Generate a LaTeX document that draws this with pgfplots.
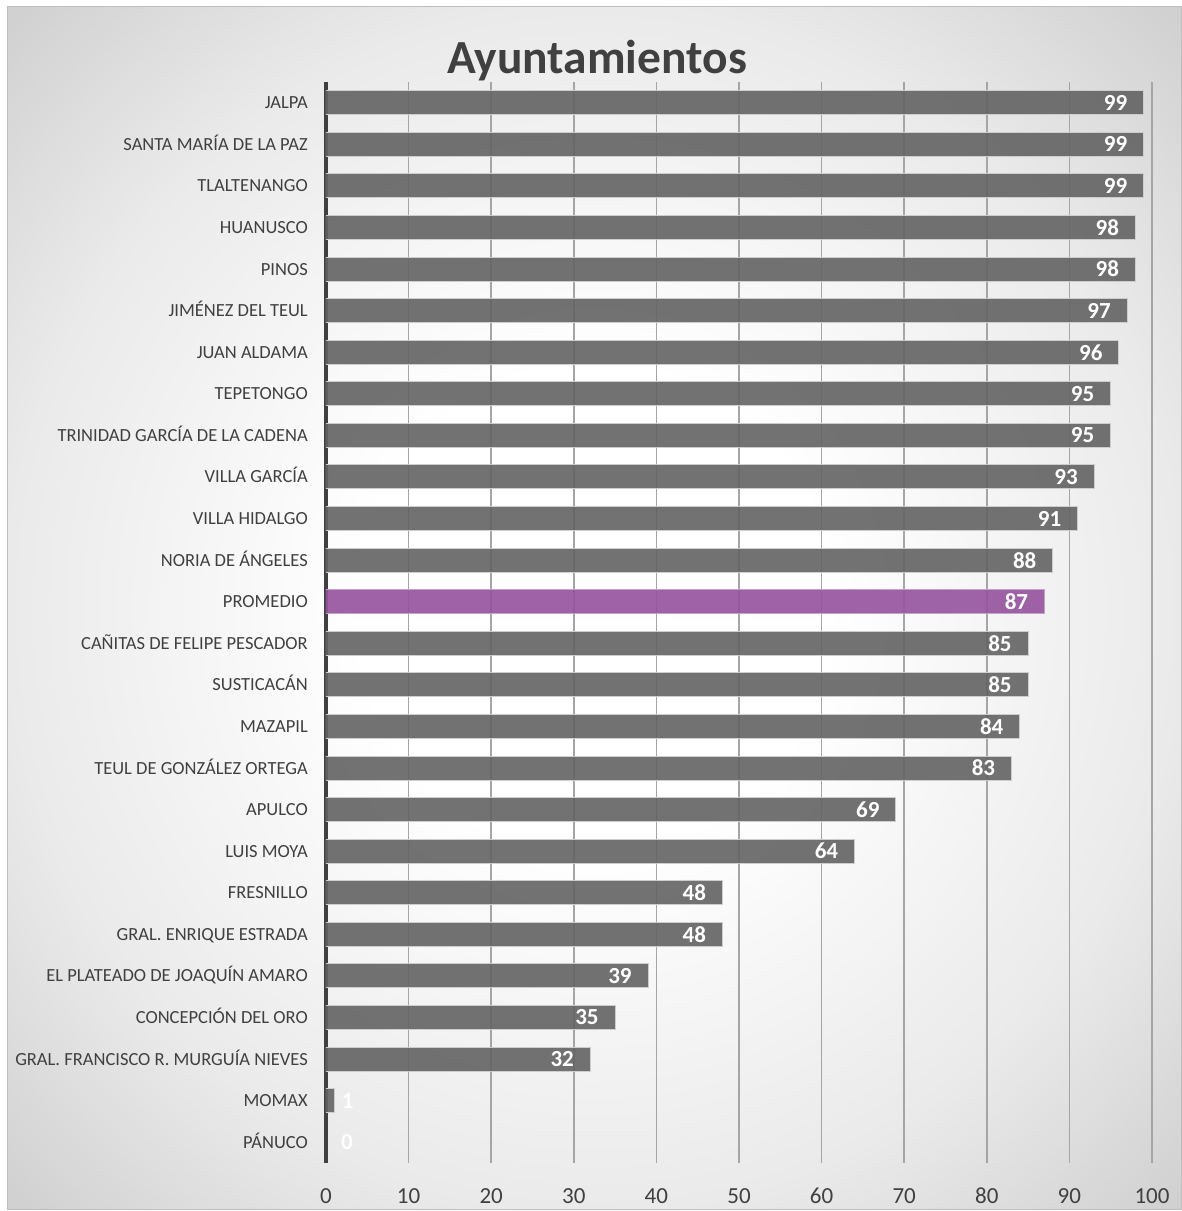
\documentclass[border=0pt]{standalone}
\usepackage{fontspec}
\setmainfont{Carlito}
\usepackage{pgfplots}
\pgfplotsset{compat=1.18}

\definecolor{bargray}{RGB}{99,99,99}
\definecolor{barline}{RGB}{205,205,205}
\definecolor{promedio}{RGB}{149,82,158}
\definecolor{txtgray}{RGB}{64,64,64}
\definecolor{gridgray}{RGB}{165,165,165}
\definecolor{bgmid}{RGB}{234,234,234}
\definecolor{bgedge}{RGB}{206,206,206}
\definecolor{framegray}{RGB}{190,190,190}

\pgfdeclareradialshading{bgshade}{\pgfpoint{0bp}{0bp}}{%
  color(0bp)=(white); color(10bp)=(white); color(25bp)=(bgmid);
  color(36bp)=(bgedge); color(50bp)=(bgedge)}

\begin{document}
\begin{tikzpicture}[x=1pt,y=1pt]
  \useasboundingbox (0,0) rectangle (1182,1211);
  \shade[shading=bgshade] (7,1) rectangle (1181,1204);
  \draw[framegray, line width=1pt] (7,1) rectangle (1181,1204);

  \node[anchor=base, text=txtgray, font=\fontsize{47.5}{50}\selectfont\bfseries]
    at (597,1137) {Ayuntamientos};

  \begin{axis}[
    at={(326pt,48pt)}, anchor=south west,
    scale only axis, width=826pt, height=1081pt,
    xbar, bar width=24pt,
    xmin=0, xmax=100, ymin=-0.5, ymax=25.5,
    xtick={0,10,...,100},
    ytick={0,...,25},
    yticklabels={PÁNUCO, MOMAX, GRAL. FRANCISCO R. MURGUÍA NIEVES,
      CONCEPCIÓN DEL ORO, EL PLATEADO DE JOAQUÍN AMARO,
      GRAL. ENRIQUE ESTRADA, FRESNILLO, LUIS MOYA, APULCO,
      TEUL DE GONZÁLEZ ORTEGA, MAZAPIL, SUSTICACÁN,
      CAÑITAS DE FELIPE PESCADOR, PROMEDIO, NORIA DE ÁNGELES,
      VILLA HIDALGO, VILLA GARCÍA, TRINIDAD GARCÍA DE LA CADENA,
      TEPETONGO, JUAN ALDAMA, JIMÉNEZ DEL TEUL, PINOS, HUANUSCO,
      TLALTENANGO, SANTA MARÍA DE LA PAZ, JALPA},
    axis y line*=left, axis x line*=bottom,
    y axis line style={line width=4pt, color=txtgray},
    x axis line style={draw=none},
    major tick length=0pt,
    xmajorgrids, major grid style={gridgray, line width=1.5pt},
    /pgf/number format/assume math mode=true,
    yticklabel style={anchor=base east, inner sep=0pt, xshift=-18pt, yshift=-6pt,
      text=txtgray, font=\fontsize{18.5}{20}\selectfont},
    xticklabel style={anchor=north, inner sep=0pt, yshift=-25pt,
      text=txtgray, font=\fontsize{23}{25}\selectfont},
    nodes near coords,
    every node near coord/.append style={text=white, fill opacity=1, text opacity=1,
      font=\fontsize{23}{25}\selectfont\bfseries, inner sep=0pt},
  ]
    % municipios
    \addplot[fill=bargray, fill opacity=0.9, draw=barline, line width=1pt, bar shift=0pt,
      nodes near coords style={anchor=east, xshift=-16pt}]
      coordinates {
        (32,2) (35,3) (39,4) (48,5) (48,6) (64,7) (69,8) (83,9) (84,10)
        (85,11) (85,12) (88,14) (91,15) (93,16) (95,17) (95,18) (96,19)
        (97,20) (98,21) (98,22) (99,23) (99,24) (99,25)};
    % promedio
    \addplot[fill=promedio, fill opacity=0.9, draw=promedio!55!white, line width=1pt,
      bar shift=0pt, nodes near coords style={anchor=east, xshift=-16pt}]
      coordinates {(87,13)};
    % barras muy cortas: etiqueta a la derecha del eje
    \addplot[fill=bargray, fill opacity=0.9, draw=barline, line width=1pt, bar shift=0pt,
      nodes near coords style={anchor=west, xshift=7pt}]
      coordinates {(1,1)};
    \addplot[draw=none, fill=none, bar shift=0pt,
      nodes near coords style={anchor=west, xshift=15pt}]
      coordinates {(0,0)};
  \end{axis}
\end{tikzpicture}
\end{document}
